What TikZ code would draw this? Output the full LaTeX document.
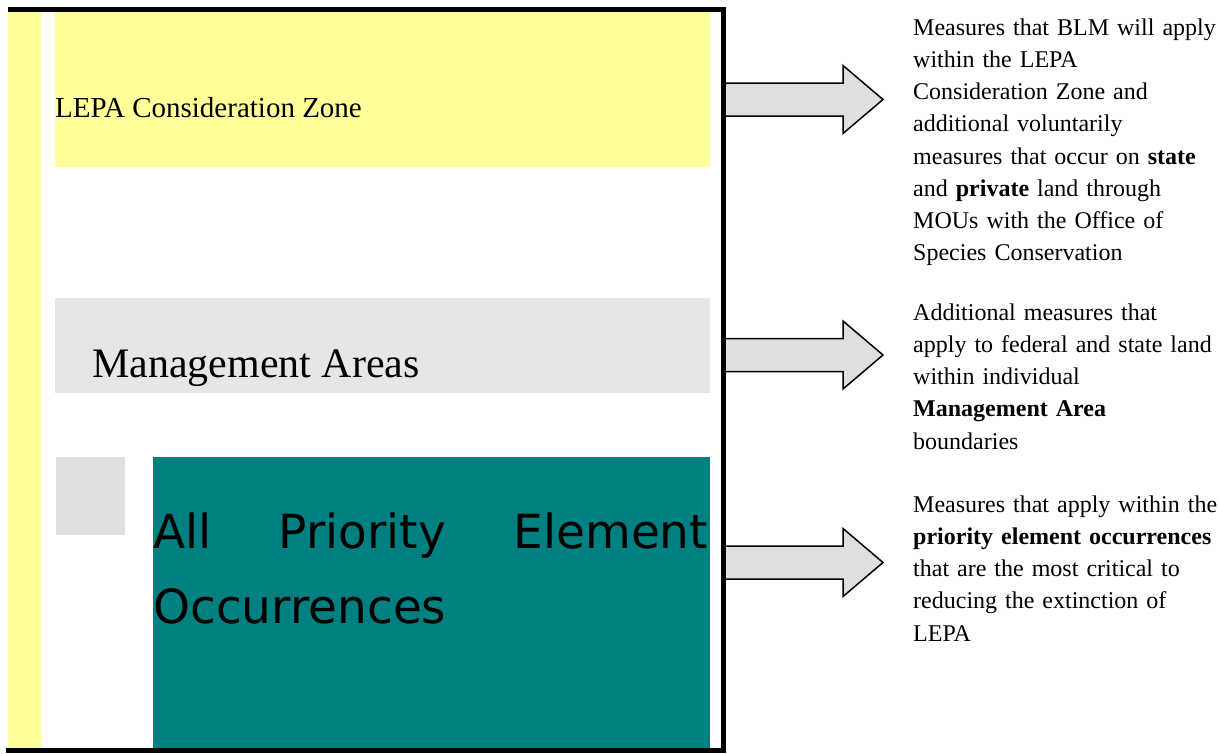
\documentclass[tikz,border=0pt]{standalone}
\usepackage{fontspec}
\setmainfont{Liberation Serif}
\newfontfamily\occurrencefont{DejaVu Sans}

\definecolor{zoneYellow}{HTML}{FFFF99}
\definecolor{areaGrey}{HTML}{E6E6E6}
\definecolor{squareGrey}{HTML}{E0E0E0}
\definecolor{occurrenceTeal}{HTML}{008080}
\definecolor{arrowGrey}{HTML}{DFDFDF}

\begin{document}
\begin{tikzpicture}[x=1pt,y=-1pt,
	measure/.style={anchor=north west,inner sep=0,text width=310pt,align=left,font=\fontsize{24}{32.2}\selectfont},
	arrowbody/.style={draw=black,line width=1.5pt,fill=arrowGrey,line join=miter}]
\useasboundingbox (0,0) rectangle (1219,753);
% nested zones
\fill[zoneYellow] (8,12) rectangle (41,752);
\fill[zoneYellow] (55,12) rectangle (710,167);
\fill[areaGrey] (55,298) rectangle (710,393);
\fill[squareGrey] (56,457) rectangle (125,535);
\fill[occurrenceTeal] (153,457) rectangle (710,748);
\node[anchor=base west,inner sep=0,font=\fontsize{29}{34}\selectfont] (zone) at (55,117) {LEPA Consideration Zone};
\node[anchor=base west,inner sep=0,font=\fontsize{42}{48}\selectfont] (areas) at (92,377) {Management Areas};
\node[anchor=north west,inner sep=0,text width=555pt,align=left,font=\occurrencefont\fontsize{47}{75}\selectfont] (occurrences) at (153,512.3) {All\hfill Priority\hfill Element\\Occurrences};
% block arrows
\foreach \ay in {99.5,355,562.5}
{%
	\draw[arrowbody] (725,\ay-16.5) -- (843,\ay-16.5) -- (843,\ay-34) -- (883,\ay) -- (843,\ay+34) -- (843,\ay+16.5) -- (725,\ay+16.5) -- cycle;
}%
\draw[line width=5pt] (8,9.5) -- (723.5,9.5) -- (723.5,750) -- (6,750);
% measures
\node[measure] (zone measures) at (913,18.5) {Measures that BLM will apply\\within the LEPA\\Consideration Zone and\\additional voluntarily\\measures that occur on \textbf{state}\\and \textbf{private} land through\\MOUs with the Office of\\Species Conservation};
\node[measure] (area measures) at (913,303.5) {Additional measures that\\apply to federal and state land\\within individual\\\textbf{Management Area}\\boundaries};
\node[measure] (occurrence measures) at (913,495.5) {Measures that apply within the\\\textbf{priority element occurrences}\\that are the most critical to\\reducing the extinction of\\LEPA};
\end{tikzpicture}
\end{document}
